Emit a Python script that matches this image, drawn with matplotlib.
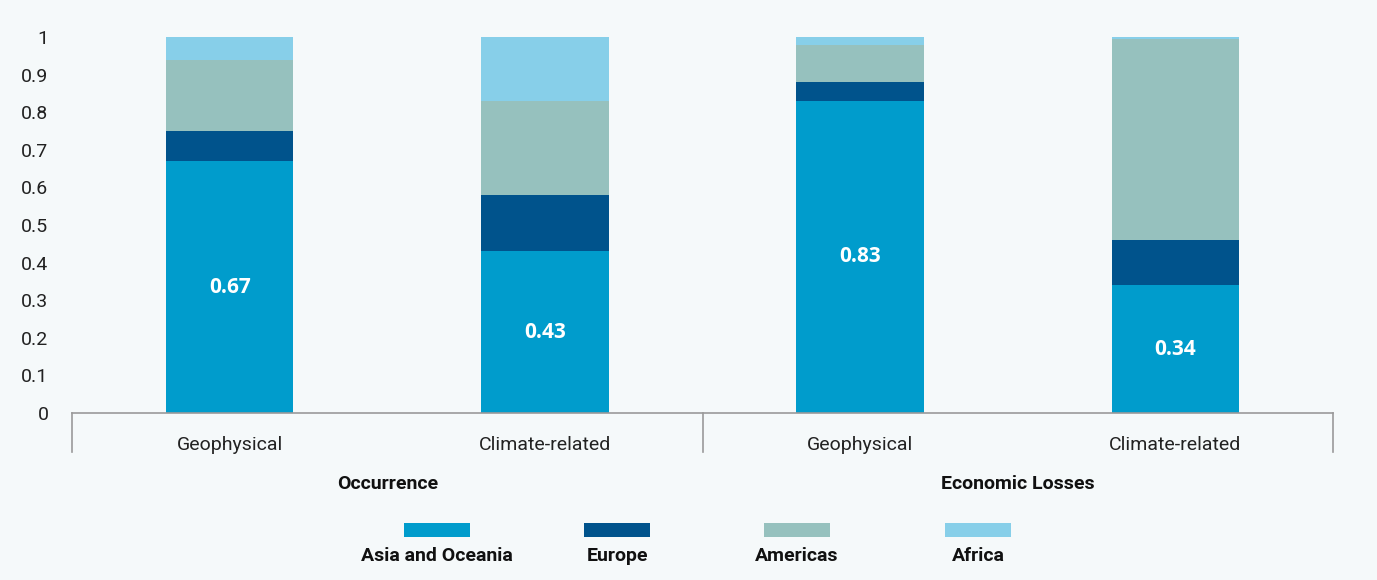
import matplotlib
matplotlib.use('Agg')
import matplotlib.pyplot as plt
from matplotlib.patches import Rectangle
import numpy as np

# shares of disaster occurrence / losses by region
categories = ['Geophysical', 'Climate-related', 'Geophysical', 'Climate-related']
groups = ['Occurrence', 'Economic Losses']
regions = ['Asia and Oceania', 'Europe', 'Americas', 'Africa']
asia = [0.67, 0.43, 0.83, 0.34]
europe = [0.08, 0.15, 0.05, 0.12]
americas = [0.19, 0.25, 0.10, 0.535]
africa = [0.06, 0.17, 0.02, 0.005]
colors = ['#009ccc', '#00538c', '#96c1be', '#87cfe9']

bg = '#f5f9fa'
narrow = ['Liberation Sans Narrow', 'Roboto', 'DejaVu Sans']
plain = ['Roboto', 'DejaVu Sans']

fig = plt.figure(figsize=(13.77, 5.8), dpi=100, facecolor=bg)
ax = fig.add_axes([72 / 1377, 1 - 413 / 580, (1333 - 72) / 1377, 376 / 580])
ax.set_facecolor(bg)

x = np.arange(len(categories))
series = [asia, europe, americas, africa]
bottom = np.zeros(len(categories))
for vals, c in zip(series, colors):
    ax.bar(x, vals, width=0.405, bottom=bottom, color=c, edgecolor='none')
    bottom += np.array(vals)

for xi, v in zip(x, asia):
    ax.text(xi, v / 2, f'{v:.2f}', ha='center', va='center', color='white',
            fontsize=15, fontweight='bold', family=['Open Sans', 'DejaVu Sans'])

ax.set_xlim(-0.5, len(categories) - 0.5)
ax.set_ylim(0, 1)
ax.set_yticks(np.arange(0, 1.01, 0.1))
ax.set_yticklabels(['0'] + [f'{t:.1f}' for t in np.arange(0.1, 0.95, 0.1)] + ['1'],
                   family=narrow, fontsize=14, color='#222222')
ax.tick_params(axis='y', length=0, pad=17)
ax.tick_params(axis='x', length=0)
ax.set_xticks([])
for s in ['top', 'right', 'left']:
    ax.spines[s].set_visible(False)
ax.spines['bottom'].set_color('#9a9a9a')
ax.spines['bottom'].set_linewidth(1.2)

# group separators below axis
for xs in [-0.5, 1.5, 3.5]:
    ax.plot([xs, xs], [0, -0.104], color='#9a9a9a', lw=1.2, clip_on=False)

for xi, cat in zip(x, categories):
    ax.text(xi, -0.085, cat, ha='center', va='center', fontsize=14,
            family=plain, color='#222222', transform=ax.get_xaxis_transform())

for gi, g in enumerate(groups):
    ax.text(gi * 2 + 0.5, -0.19, g, ha='center', va='center', fontsize=14,
            fontweight='bold', family=narrow, color='#111111',
            transform=ax.get_xaxis_transform())

# legend: swatch above label
lax = fig.add_axes([0, 0, 1, 1], facecolor='none')
lax.set_xlim(0, 1377)
lax.set_ylim(580, 0)
lax.axis('off')
legend_x = [437, 617, 797, 978]
for lx, name, c in zip(legend_x, regions, colors):
    lax.add_patch(Rectangle((lx - 33, 523), 66, 14, color=c, lw=0))
    lax.text(lx, 556, name, ha='center', va='center', fontsize=14,
             fontweight='bold', family=narrow, color='#111111')

fig.savefig('out.png', dpi=100, facecolor=bg)
